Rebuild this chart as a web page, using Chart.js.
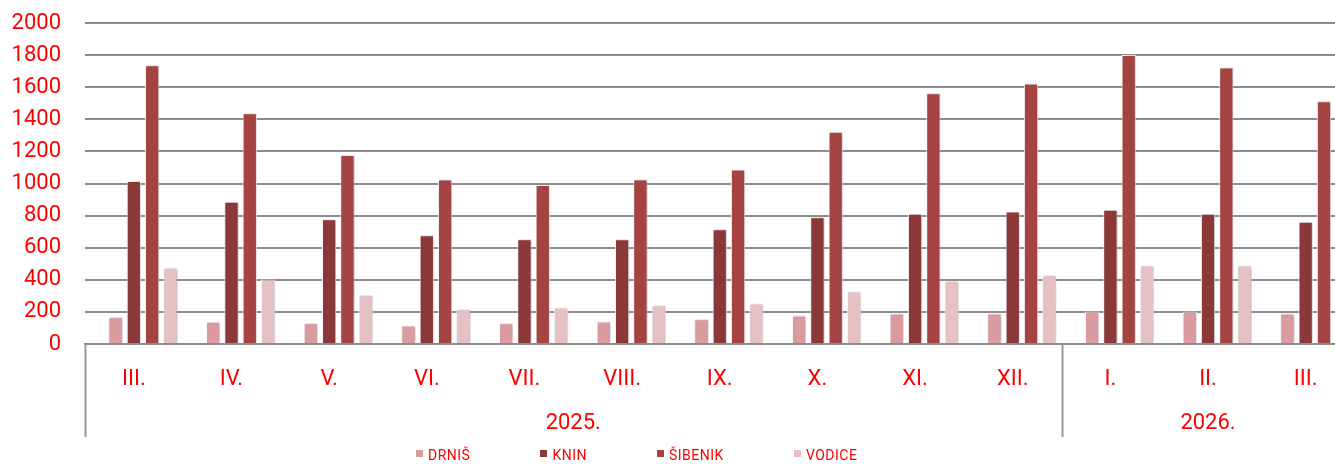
<!DOCTYPE html>
<html>
<head>
<meta charset="utf-8">
<script src="https://cdn.jsdelivr.net/npm/chart.js"></script>
<style>
  body { margin: 0; background: #fff; overflow: hidden; }
  #wrap { position: relative; width: 1360px; height: 464px; }
  #legend { position: absolute; left: 416px; top: 447px; display: flex; font: 14px Roboto, sans-serif; color: #ff0000; line-height: 16px; letter-spacing: 0.5px; }
  #legend span.item { display: flex; align-items: center; margin-right: 70px; }
  #legend span.box { display: inline-block; width: 7px; height: 7px; margin-right: 5px; margin-top: -3px; }
</style>
</head>
<body>
<div id="wrap">
  <canvas id="c" width="1360" height="464"></canvas>
  <div id="legend"></div>
</div>
<script>
// categories (months) and the year groups they belong to
var months = ['III.', 'IV.', 'V.', 'VI.', 'VII.', 'VIII.', 'IX.', 'X.', 'XI.', 'XII.', 'I.', 'II.', 'III.'];
var years = ['2025.', '2026.'];
var yearSpans = [10, 3];

var seriesNames = ['DRNIŠ', 'KNIN', 'ŠIBENIK', 'VODICE'];
var seriesColors = ['#d99b9d', '#8b3838', '#a54343', '#e5c1c3'];

var drnis = [167, 139, 129, 115, 129, 140, 154, 177, 190, 190, 202, 202, 190];
var knin = [1015, 886, 777, 677, 652, 652, 715, 790, 812, 825, 837, 812, 762];
var sibenik = [1737, 1437, 1177, 1025, 990, 1025, 1087, 1323, 1562, 1623, 1800, 1723, 1512];
var vodice = [475, 402, 304, 215, 227, 240, 252, 327, 394, 427, 489, 489, 430];

var yTicks = [0, 200, 400, 600, 800, 1000, 1200, 1400, 1600, 1800, 2000];

var red = '#ff0000';
var gridGray = '#8c8c8c';

// empty series in front, like the source sheet, shifts the bar group right
var datasets = [{ label: '', data: [], backgroundColor: 'rgba(0,0,0,0)' }];
[drnis, knin, sibenik, vodice].forEach(function (vals, i) {
    datasets.push({
        label: seriesNames[i],
        data: vals,
        backgroundColor: seriesColors[i],
        borderColor: 'rgba(255,255,255,0.95)',
        borderWidth: 1
    });
});

var barShadow = {
    id: 'barShadow',
    beforeDatasetsDraw: function (chart) {
        var ctx = chart.ctx;
        ctx.save();
        ctx.shadowColor = 'rgba(0,0,0,0.28)';
        ctx.shadowBlur = 3;
        ctx.shadowOffsetX = 1;
        ctx.shadowOffsetY = 0;
    },
    afterDatasetsDraw: function (chart) {
        chart.ctx.restore();
    }
};

var yearAxis = {
    id: 'yearAxis',
    afterDraw: function (chart) {
        var ctx = chart.ctx;
        var x = chart.scales.x;
        var half = (x.getPixelForValue(1) - x.getPixelForValue(0)) / 2;
        var top = chart.chartArea.bottom;
        var bottom = x.bottom;
        var start = 0;
        ctx.save();
        ctx.strokeStyle = '#999999';
        ctx.lineWidth = 2;
        ctx.fillStyle = red;
        ctx.font = '22px Roboto, sans-serif';
        ctx.textAlign = 'center';
        ctx.textBaseline = 'middle';
        years.forEach(function (yr, i) {
            var n = yearSpans[i];
            var left = x.getPixelForValue(start) - half;
            var right = x.getPixelForValue(start + n - 1) + half;
            ctx.beginPath();
            ctx.moveTo(Math.round(left) + 0.5, top);
            ctx.lineTo(Math.round(left) + 0.5, bottom);
            ctx.stroke();
            ctx.fillText(yr, (left + right) / 2, 423);
            start += n;
        });
        ctx.restore();
    }
};

new Chart(document.getElementById('c'), {
    type: 'bar',
    data: { labels: months, datasets: datasets },
    plugins: [barShadow, yearAxis],
    options: {
        responsive: false,
        animation: false,
        layout: { padding: { top: 23, right: 5.5, bottom: 27, left: 0 } },
        datasets: { bar: { categoryPercentage: 0.937, barPercentage: 0.78 } },
        plugins: { legend: { display: false }, tooltip: { enabled: false } },
        scales: {
            x: {
                grid: { display: false, drawTicks: false },
                border: { display: true, color: gridGray, width: 2 },
                ticks: {
                    color: red,
                    font: { family: 'Roboto', size: 22 },
                    padding: 22,
                    maxRotation: 0,
                    autoSkip: false
                },
                afterFit: function (s) { s.height = 93; s.paddingLeft = 0; s.paddingRight = 0; }
            },
            y: {
                min: 0,
                max: 2000,
                afterBuildTicks: function (s) { s.ticks = yTicks.map(function (v) { return { value: v }; }); },
                ticks: {
                    color: red,
                    font: { family: 'Roboto', size: 22 },
                    padding: 24,
                    callback: function (v) { return String(v); }
                },
                grid: { color: gridGray, lineWidth: 2, drawTicks: false },
                border: { display: false },
                afterFit: function (s) { s.width = 85; s.paddingTop = 0; s.paddingBottom = 0; }
            }
        }
    }
});

var legend = document.getElementById('legend');
seriesNames.forEach(function (name, i) {
    var item = document.createElement('span');
    item.className = 'item';
    var box = document.createElement('span');
    box.className = 'box';
    box.style.background = seriesColors[i];
    item.appendChild(box);
    item.appendChild(document.createTextNode(name));
    legend.appendChild(item);
});
</script>
</body>
</html>
